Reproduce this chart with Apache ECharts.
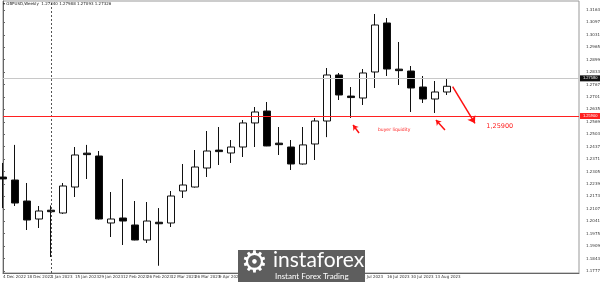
<!DOCTYPE html>
<html><head><meta charset="utf-8">
<script src="https://cdn.jsdelivr.net/npm/echarts@6/dist/echarts.min.js"></script>
<style>html,body{margin:0;padding:0;background:#fff}#c{width:600px;height:282px}</style>
</head><body><div id="c"></div>
<script>
// Weekly GBPUSD candles
const dates = ['4 Dec 2022','11 Dec 2022','18 Dec 2022','25 Dec 2022','1 Jan 2023','8 Jan 2023','15 Jan 2023','22 Jan 2023','29 Jan 2023','5 Feb 2023','12 Feb 2023','19 Feb 2023','26 Feb 2023','5 Mar 2023','12 Mar 2023','19 Mar 2023','26 Mar 2023','2 Apr 2023','9 Apr 2023','16 Apr 2023','23 Apr 2023','30 Apr 2023','7 May 2023','14 May 2023','21 May 2023','28 May 2023','4 Jun 2023','11 Jun 2023','18 Jun 2023','25 Jun 2023','2 Jul 2023','9 Jul 2023','16 Jul 2023','23 Jul 2023','30 Jul 2023','6 Aug 2023','13 Aug 2023','20 Aug 2023'];
const futureWeeks = ['27 Aug 2023','3 Sep 2023','10 Sep 2023','17 Sep 2023','24 Sep 2023','1 Oct 2023','8 Oct 2023','15 Oct 2023','22 Oct 2023','29 Oct 2023','5 Nov 2023'];
const opens  = [1.22760,1.22603,1.21488,1.20532,1.21000,1.20851,1.22231,1.24030,1.23877,1.20320,1.20585,1.20214,1.19417,1.20360,1.20320,1.22019,1.22231,1.23240,1.24190,1.24037,1.24355,1.25632,1.26267,1.24560,1.24355,1.23453,1.24515,1.25736,1.28179,1.27060,1.26957,1.28338,1.30940,1.28490,1.28391,1.27541,1.26904,1.27276];
const closes = [1.22660,1.21381,1.20479,1.20957,1.20920,1.22285,1.23931,1.23950,1.20532,1.20532,1.20425,1.19417,1.20425,1.20280,1.21753,1.22337,1.23293,1.24143,1.24110,1.24355,1.25632,1.26214,1.24410,1.24480,1.23453,1.24466,1.25736,1.28179,1.27117,1.26980,1.28285,1.30834,1.28497,1.28410,1.27488,1.26904,1.27276,1.27580];
const lows   = [1.21113,1.21222,1.19948,1.20054,1.18514,1.20800,1.21700,1.22656,1.20500,1.19576,1.19152,1.19400,1.19258,1.18050,1.20107,1.21647,1.22200,1.22762,1.23400,1.23508,1.23824,1.24355,1.24400,1.23931,1.23134,1.23420,1.23665,1.24880,1.26851,1.25900,1.26586,1.27488,1.28125,1.27648,1.26214,1.26692,1.26161,1.27117];
const highs  = [1.23508,1.24466,1.22444,1.21222,1.21250,1.22444,1.24355,1.24466,1.24143,1.21966,1.22656,1.21488,1.21435,1.21113,1.22019,1.23453,1.24196,1.25205,1.25417,1.24727,1.25789,1.26479,1.26745,1.25417,1.24727,1.25417,1.25895,1.28550,1.28285,1.27541,1.28497,1.31418,1.31205,1.29931,1.28656,1.28125,1.27860,1.27966];
const yTicks = [1.31630,1.30970,1.30310,1.29650,1.28990,1.28330,1.27670,1.27010,1.26350,1.25690,1.25030,1.24370,1.23710,1.23050,1.22390,1.21730,1.21070,1.20410,1.19750,1.19090,1.18430,1.17770];
const yMin = 1.17665, yMax = 1.32108;
const titleText = '\u25BE GBPUSD,Weekly  1.27340 1.27988 1.27093 1.27326';
const levelPrice = 1.25900;
const levelText = '1,25900';
const separatorDate = '1 Jan 2023';
// annotation arrows: [tailX, tailPrice, headX, headPrice] in week-index units
const arrows = [
  [29.67, 1.25099, 29.17, 1.25523],
  [36.83, 1.25258, 36.08, 1.25789],
  [37.47, 1.27557, 39.33, 1.25614]
];
const notes = [
  {text:'buyer liquidity', x:32.6, y:1.25258, size:4.5},
  {text:levelText, x:41.4, y:1.25470, size:6.5}
];

const cats = dates.concat(futureWeeks);
const candles = dates.map((d,i)=>[opens[i],closes[i],lows[i],highs[i]]);
const lastClose = closes[closes.length-1];

const chart = echarts.init(document.getElementById('c'));
chart.setOption({
  animation:false,
  backgroundColor:'#ffffff',
  title:{text:titleText,left:3,top:2,padding:0,textStyle:{fontSize:4,color:'#222',fontWeight:'normal',fontFamily:'DejaVu Sans'}},
  grid:{left:3,right:21,top:1,bottom:9,containLabel:false,outerBoundsMode:'none',show:true,borderColor:'#999',borderWidth:1,backgroundColor:'transparent'},
  xAxis:[{
    type:'category',data:cats,boundaryGap:false,
    axisLine:{show:true,lineStyle:{color:'#666',width:1}},
    axisTick:{show:false},
    splitLine:{show:false},
    axisLabel:{fontSize:4,color:'#333',align:'left',margin:2,fontFamily:'DejaVu Sans',hideOverlap:false,
      interval:(i)=> i%2===0 && i<dates.length}
  },{
    type:'value',min:0,max:cats.length-1,show:false
  }],
  yAxis:{
    type:'value',position:'right',min:yMin,max:yMax,
    splitLine:{show:false},
    axisLine:{show:true,lineStyle:{color:'#666',width:1}},
    axisTick:{show:true,length:2,customValues:yTicks,lineStyle:{color:'#666'}},
    axisLabel:{customValues:yTicks,fontSize:4,color:'#333',margin:7,fontFamily:'DejaVu Sans',hideOverlap:false,
      formatter:(v)=>v.toFixed(5)}
  },
  series:[{
    type:'candlestick',
    data:candles,
    barWidth:8,
    itemStyle:{color:'#ffffff',color0:'#000000',borderColor:'#111',borderColor0:'#111',borderWidth:1},
    markLine:{
      silent:true,symbol:['none','none'],animation:false,
      data:[
        {xAxis:separatorDate,lineStyle:{color:'#555',type:[2,2],width:1},label:{show:false}},
        {yAxis:lastClose,lineStyle:{color:'#c8c8c8',type:'solid',width:1},
          label:{show:true,position:'end',distance:1,formatter:lastClose.toFixed(5),color:'#fff',backgroundColor:'#111',padding:[1,3],fontSize:4}},
        {yAxis:levelPrice,lineStyle:{color:'#ff2020',type:'solid',width:1.2},
          label:{show:true,position:'end',distance:1,formatter:levelPrice.toFixed(5),color:'#fff',backgroundColor:'#ff2020',padding:[1,3],fontSize:4}}
      ]
    }
  },{
    type:'line',xAxisIndex:1,yAxisIndex:0,data:[],
    markLine:{
      silent:true,animation:false,
      symbol:['none','arrow'],
      lineStyle:{color:'#ff1010',width:1.5,type:'solid'},
      label:{show:false},
      data:arrows.map((a,i)=>[{coord:[a[0],a[1]],symbol:'none'},{coord:[a[2],a[3]],symbol:'arrow',symbolSize:i===2?7:5}])
    },
    markPoint:{
      silent:true,animation:false,
      data:notes.map(n=>({coord:[n.x,n.y],symbol:'rect',symbolSize:1,itemStyle:{color:'rgba(0,0,0,0)'},
        label:{show:true,position:'inside',formatter:n.text,color:'#ff2020',fontSize:n.size,fontFamily:'DejaVu Sans'}}))
    }
  }],
  graphic:[
    {type:'rect',z:100,shape:{x:238,y:250,width:127,height:32},style:{fill:'#5e5e5e'}},
    {type:'text',z:101,style:{x:241,y:249,text:'\u2699',fill:'#fff',fontSize:30,fontFamily:'DejaVu Sans'}},
    {type:'text',z:101,style:{x:273,y:250,text:'instaforex',fill:'#fff',fontSize:21,fontFamily:'Lato',fontWeight:'normal'}},
    {type:'text',z:101,style:{x:275,y:272,text:'Instant Forex Trading',fill:'#fff',fontSize:8,fontFamily:'Lato'}}
  ]
});
</script></body></html>
